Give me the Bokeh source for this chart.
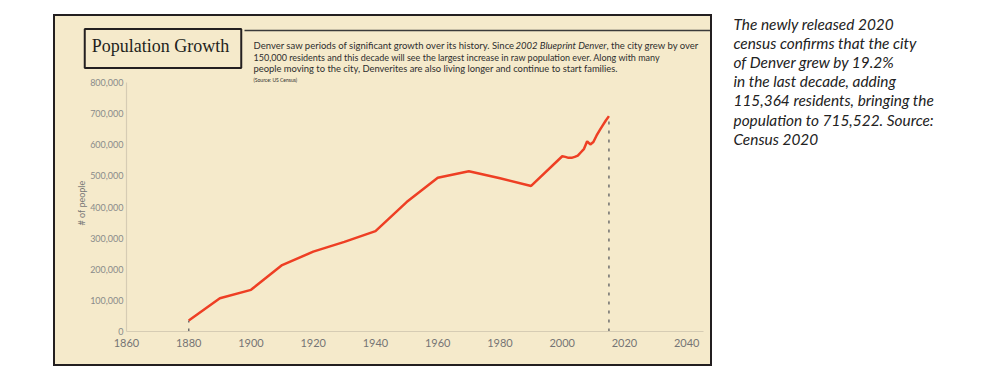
from bokeh.plotting import figure
from bokeh.models import Range1d, Label, Arrow, FixedTicker, NumeralTickFormatter, Spacer
from bokeh.layouts import row, column
from bokeh.embed import file_html
from bokeh.resources import INLINE

# ---------------- data ----------------
years = [1880, 1890, 1900, 1910, 1920, 1930, 1940, 1950, 1960, 1970, 1980, 1990,
         2000, 2001, 2002, 2003, 2004, 2005, 2006, 2007, 2008, 2009, 2010,
         2011, 2012, 2013, 2014, 2015]
population = [35629, 106713, 133859, 213381, 256491, 287861, 322412, 415786,
              493887, 514678, 492365, 467610,
              563000, 561000, 558000, 558000, 561000, 565000, 576000, 587000,
              611000, 601000, 609000, 629000, 646000, 662000, 678000, 692000]
x_ticks = [1860, 1880, 1900, 1920, 1940, 1960, 1980, 2000, 2020, 2040]
y_ticks = [0, 100000, 200000, 300000, 400000, 500000, 600000, 700000, 800000]

title_text = "Population Growth"
para_line1a = "Denver saw periods of significant growth over its history.  Since"
para_line1b = "2002 Blueprint Denver"
para_line1c = ", the city grew by over"
para_line2 = "150,000 residents and this decade will see the largest increase in raw population ever.  Along with many"
para_line3 = "people moving to the city, Denverites are also living longer and continue to start families."
source_text = "(Source: US Census)"
side_lines = ["The newly released 2020",
              "census confirms that the city",
              "of Denver grew by 19.2%",
              "in the last decade, adding",
              "115,364 residents, bringing the",
              "population to 715,522. Source:",
              "Census 2020"]

# ---------------- styling / geometry (page pixels) ----------------
CREAM = "#F5EACB"
DARK = "#231F20"
BOX_L, BOX_T, BOX_R, BOX_B = 53, 14, 712, 366
BW = 2
IN_L, IN_R = BOX_L + BW, BOX_R - BW
HEAD_T, HEAD_B = BOX_T + BW, 74
MAIN_T, MAIN_B = HEAD_B, BOX_B - BW
FL, FR, FT, FB = 126, 703, MAIN_T, 331
X0 = 1860
X1 = X0 + (FR - FL) / 3.1125
Y0 = 0
Y1 = 800000 * (FB - FT) / (FB - 82)


def dx(px):
    return X0 + (px - FL) * (X1 - X0) / (FR - FL)


def dy(py):
    return Y0 + (FB - py) * (Y1 - Y0) / (FB - FT)


def plain(fig):
    fig.outline_line_color = None
    fig.xgrid.visible = False
    fig.ygrid.visible = False
    fig.frame_align = False


# ---------------- header ----------------
ph = figure(width=IN_R - IN_L, height=HEAD_B - HEAD_T,
            x_range=Range1d(IN_L, IN_R), y_range=Range1d(HEAD_B, HEAD_T),
            output_backend="svg", toolbar_location=None, x_axis_type=None, y_axis_type=None,
            min_border=0)
plain(ph)
ph.background_fill_color = CREAM
ph.border_fill_color = CREAM

ph.add_layout(Arrow(end=None, x_start=244, y_start=30, x_end=IN_R, y_end=30,
                    line_color="#3A3A3A", line_width=1.5))
ph.add_layout(Label(x=162.5, y=48, text=title_text, text_align="center",
                    text_baseline="middle", text_font="Liberation Serif",
                    text_font_size="18px", text_color=DARK,
                    border_line_color=DARK, border_line_width=2,
                    background_fill_color=CREAM, padding=(7, 12, 7, 12)))

PF = "Lato"
PC = "#2E2E2E"
L1 = "9.5px"
ph.add_layout(Label(x=253, y=45, text=para_line1a, text_font=PF, text_font_size=L1,
                    text_color=PC, text_baseline="middle"))
ph.add_layout(Label(x=515, y=45, text=para_line1b, text_font=PF, text_font_size=L1,
                    text_color=PC, text_baseline="middle", text_font_style="italic"))
ph.add_layout(Label(x=606, y=45, text=para_line1c, text_font=PF, text_font_size=L1,
                    text_color=PC, text_baseline="middle"))
ph.add_layout(Label(x=253, y=56.5, text=para_line2, text_font=PF, text_font_size="9px",
                    text_color=PC, text_baseline="middle"))
ph.add_layout(Label(x=253, y=68, text=para_line3, text_font=PF, text_font_size="9.4px",
                    text_color=PC, text_baseline="middle"))

# ---------------- main chart ----------------
p = figure(width=IN_R - IN_L, height=MAIN_B - MAIN_T,
           x_range=Range1d(X0, X1), y_range=Range1d(Y0, Y1),
           output_backend="svg", toolbar_location=None,
           min_border_left=FL - IN_L, min_border_right=IN_R - FR,
           min_border_top=0, min_border_bottom=MAIN_B - FB)
plain(p)
p.background_fill_color = CREAM
p.border_fill_color = CREAM

AX_LINE = "#D6CCB4"
for ax in (p.xaxis[0], p.yaxis[0]):
    ax.axis_line_color = AX_LINE
    ax.axis_line_width = 1.2
    ax.major_tick_line_color = None
    ax.minor_tick_line_color = None
    ax.major_tick_in = 0
    ax.major_tick_out = 0
    ax.minor_tick_in = 0
    ax.minor_tick_out = 0
    ax.major_label_text_font = "Lato"

p.xaxis.ticker = FixedTicker(ticks=x_ticks)
p.xaxis.major_label_text_font_size = "11px"
p.xaxis.major_label_text_color = "#757575"
p.xaxis.major_label_standoff = 7

p.yaxis.ticker = FixedTicker(ticks=y_ticks)
p.yaxis.formatter = NumeralTickFormatter(format="0,0")
p.yaxis.major_label_text_font_size = "9px"
p.yaxis.major_label_text_color = "#8A8A8A"
p.yaxis.major_label_standoff = 3
p.yaxis.bounds = (0, 800000)
p.yaxis.axis_label = "# of people"
p.yaxis.axis_label_text_font = "Lato"
p.yaxis.axis_label_text_font_style = "normal"
p.yaxis.axis_label_text_font_size = "9px"
p.yaxis.axis_label_text_color = "#777777"
p.yaxis.axis_label_standoff = 0

p.add_layout(Label(x=dx(253), y=dy(79), text=source_text, text_font=PF, text_font_size="5px",
                   text_color=PC, text_baseline="middle"))

# dashed markers at first and last year
p.segment(x0=[years[0], years[-1]], y0=[0, 0], x1=[years[0], years[-1]],
          y1=[population[0], population[-1]],
          line_color="#6E6E6E", line_width=1.5, line_dash="3 6")
p.line(years, population, line_color="#EE3F24", line_width=2.5)

# ---------------- side text ----------------
SIDE_R = 982
p2 = figure(width=SIDE_R - BOX_R, height=BOX_B - BOX_T,
            x_range=Range1d(BOX_R, SIDE_R), y_range=Range1d(BOX_B, BOX_T),
            output_backend="svg", toolbar_location=None, x_axis_type=None, y_axis_type=None,
            min_border=0)
plain(p2)
p2.background_fill_color = "white"
p2.border_fill_color = "white"
for i, line in enumerate(side_lines):
    p2.add_layout(Label(x=733, y=23 + i * 19.2, text=line, text_font="Lato",
                        text_font_style="italic", text_font_size="15.4px",
                        text_color="#222222", text_baseline="middle"))

box = column(ph, p, styles={"border": f"{BW}px solid {DARK}", "background-color": CREAM})
layout = column(Spacer(height=BOX_T), row(Spacer(width=BOX_L), box, p2))
open("out.html", "w").write(file_html(layout, INLINE))
